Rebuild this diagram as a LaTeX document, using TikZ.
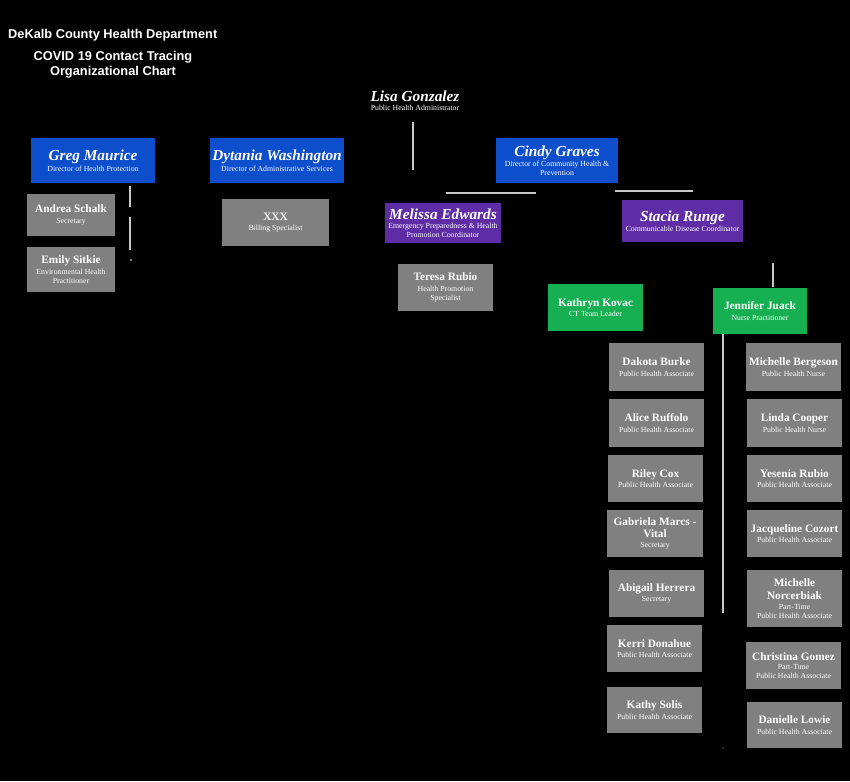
\documentclass[tikz,border=0pt]{standalone}
\usepackage{fontspec}
\setmainfont{Liberation Serif}
\newfontfamily\titlefont{Liberation Sans}
\definecolor{cblue}{RGB}{12,78,204}
\definecolor{cpurple}{RGB}{94,44,165}
\definecolor{cgreen}{RGB}{22,176,82}
\definecolor{cgray}{RGB}{128,128,128}
\definecolor{cline}{RGB}{200,200,200}
\newcommand{\dname}[1]{{\fontsize{15.3}{16}\selectfont\bfseries\itshape #1}}
\newcommand{\gname}[1]{{\fontsize{11.3}{12}\selectfont\bfseries #1}}
\newcommand{\mkrole}[1]{{\fontsize{7.8}{9}\selectfont #1}}
\tikzset{
  orgbox/.style={draw=none, inner sep=1pt, align=center, text=white,
    font=\fontsize{7.8}{9}\selectfont},
  bluebox/.style={orgbox, fill=cblue},
  purplebox/.style={orgbox, fill=cpurple},
  greenbox/.style={orgbox, fill=cgreen},
  graybox/.style={orgbox, fill=cgray},
  conn/.style={draw=cline, line width=1.4pt},
  titletext/.style={text=white, inner sep=0pt, font=\titlefont\bfseries\fontsize{12.8}{14}\selectfont}
}
\begin{document}
\begin{tikzpicture}[x=1pt,y=-1pt]
\fill[black] (0,0) rectangle (850,781);
\useasboundingbox (0,0) rectangle (850,781);

% titles
\node[titletext, anchor=west] (t1) at (8,35) {DeKalb County Health Department};
\node[titletext] (t2) at (113,57.5) {COVID 19 Contact Tracing};
\node[titletext] (t3) at (113,72) {Organizational Chart};

% administrator
\node[orgbox, fill=none] (lisa) at (415,101) {\dname{Lisa Gonzalez}\\[0pt]\mkrole{Public Health Administrator}};

% directors
\node[bluebox, minimum width=124pt, minimum height=45pt] (greg) at (93,160.5) {\dname{Greg Maurice}\\[1.5pt]\mkrole{Director of Health Protection}};
\node[bluebox, minimum width=134pt, minimum height=45pt] (dytania) at (277,160.5) {\dname{Dytania Washington}\\[1.5pt]\mkrole{Director of Administrative Services}};
\node[bluebox, minimum width=122pt, minimum height=45pt] (cindy) at (557,160.5) {\dname{Cindy Graves}\\[1pt]\mkrole{Director of Community Health \&}\\\mkrole{Prevention}};

% coordinators
\node[purplebox, minimum width=116pt, minimum height=40pt] (melissa) at (443,223) {\dname{Melissa Edwards}\\[0.5pt]\mkrole{Emergency Preparedness \& Health}\\\mkrole{Promotion Coordinator}};
\node[purplebox, minimum width=121pt, minimum height=42pt] (stacia) at (682.5,221) {\dname{Stacia Runge}\\[1pt]\mkrole{Communicable Disease Coordinator}};

% left staff
\node[graybox, minimum width=88pt, minimum height=42pt] (andrea) at (71,215) {\gname{Andrea Schalk}\\[1.5pt]\mkrole{Secretary}};
\node[graybox, minimum width=88pt, minimum height=45pt] (emily) at (71,269.5) {\gname{Emily Sitkie}\\[1.5pt]\mkrole{Environmental Health}\\\mkrole{Practitioner}};
\node[graybox, minimum width=107pt, minimum height=47pt] (xxx) at (275.5,222.5) {\gname{XXX}\\[1.5pt]\mkrole{Billing Specialist}};
\node[graybox, minimum width=95pt, minimum height=47pt] (teresa) at (445.5,287.5) {\gname{Teresa Rubio}\\[1.5pt]\mkrole{Health Promotion}\\\mkrole{Specialist}};

% team leads
\node[greenbox, minimum width=95pt, minimum height=47pt] (kathryn) at (595.5,307.5) {\gname{Kathryn Kovac}\\[1.5pt]\mkrole{CT Team Leader}};
\node[greenbox, minimum width=94pt, minimum height=46pt] (jennifer) at (760,311) {\gname{Jennifer Juack}\\[1.5pt]\mkrole{Nurse Practitioner}};

% left column of team
\node[graybox, minimum width=95pt, minimum height=48pt] (dakota) at (656.5,367) {\gname{Dakota Burke}\\[1.5pt]\mkrole{Public Health Associate}};
\node[graybox, minimum width=95pt, minimum height=48pt] (alice) at (656.5,423) {\gname{Alice Ruffolo}\\[1.5pt]\mkrole{Public Health Associate}};
\node[graybox, minimum width=95pt, minimum height=47pt] (riley) at (655.5,478.5) {\gname{Riley Cox}\\[1.5pt]\mkrole{Public Health Associate}};
\node[graybox, minimum width=96pt, minimum height=47pt] (gabriela) at (655,533.5) {\gname{Gabriela Marcs -}\\[3.5pt]\gname{Vital}\\[1pt]\mkrole{Secretary}};
\node[graybox, minimum width=95pt, minimum height=47pt] (abigail) at (656.5,593.5) {\gname{Abigail Herrera}\\[1.5pt]\mkrole{Secretary}};
\node[graybox, minimum width=95pt, minimum height=47pt] (kerri) at (654.5,648.5) {\gname{Kerri Donahue}\\[1.5pt]\mkrole{Public Health Associate}};
\node[graybox, minimum width=95pt, minimum height=46pt] (kathy) at (654.5,710) {\gname{Kathy Solis}\\[1.5pt]\mkrole{Public Health Associate}};

% right column of team
\node[graybox, minimum width=95pt, minimum height=48pt] (bergeson) at (793.5,367) {\gname{Michelle Bergeson}\\[1.5pt]\mkrole{Public Health Nurse}};
\node[graybox, minimum width=95pt, minimum height=48pt] (linda) at (794.5,423) {\gname{Linda Cooper}\\[1.5pt]\mkrole{Public Health Nurse}};
\node[graybox, minimum width=95pt, minimum height=47pt] (yesenia) at (794.5,478.5) {\gname{Yesenia Rubio}\\[1.5pt]\mkrole{Public Health Associate}};
\node[graybox, minimum width=95pt, minimum height=47pt] (jacqueline) at (794.5,533.5) {\gname{Jacqueline Cozort}\\[1.5pt]\mkrole{Public Health Associate}};
\node[graybox, minimum width=95pt, minimum height=57pt] (norcerbiak) at (794.5,598.5) {\gname{Michelle}\\[3.5pt]\gname{Norcerbiak}\\[1pt]\mkrole{Part-Time}\\\mkrole{Public Health Associate}};
\node[graybox, minimum width=95pt, minimum height=47pt] (christina) at (793.5,665.5) {\gname{Christina Gomez}\\[0.5pt]\mkrole{Part-Time}\\\mkrole{Public Health Associate}};
\node[graybox, minimum width=95pt, minimum height=46pt] (danielle) at (794.5,725) {\gname{Danielle Lowie}\\[1.5pt]\mkrole{Public Health Associate}};

% connector ends
\coordinate (lisaA) at (413,122);
\coordinate (lisaB) at (413,170);
\coordinate (gregA) at (130,186);
\coordinate (gregB) at (130,207);
\coordinate (gregC) at (130,217);
\coordinate (gregD) at (130,250);
\coordinate (gregDot) at (131,260);
\coordinate (hA) at (446,193);
\coordinate (hB) at (536,193);
\coordinate (hC) at (615,191);
\coordinate (hD) at (693,191);
\coordinate (jenTop) at (773,263);
\coordinate (jenTopB) at (773,287);
\coordinate (jenA) at (723,334);
\coordinate (jenB) at (723,613);
\coordinate (jenDot) at (723,748);

% connectors
\draw[conn] (lisaA) -- (lisaB);
\draw[conn] (gregA) -- (gregB);
\draw[conn] (gregC) -- (gregD);
\fill[cline] (gregDot) circle (1pt);
\draw[conn] (hA) -- (hB);
\draw[conn] (hC) -- (hD);
\draw[conn] (jenTop) -- (jenTopB);
\draw[conn] (jenA) -- (jenB);
\fill[cline] (jenDot) circle (0.7pt);
\end{tikzpicture}
\end{document}
